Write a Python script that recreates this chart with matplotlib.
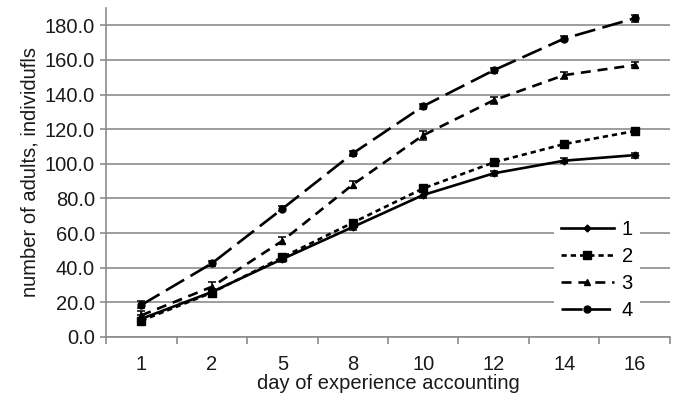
import matplotlib
matplotlib.use("Agg")
import matplotlib.pyplot as plt
import numpy as np

plt.rcParams['font.family'] = ['Liberation Sans', 'DejaVu Sans']

days = ['1', '2', '5', '8', '10', '12', '14', '16']
series_names = ['1', '2', '3', '4']

adults_1 = [10.5, 26.0, 45.0, 63.5, 82.0, 94.5, 101.8, 105.0]
adults_2 = [9.4, 25.6, 46.0, 66.0, 85.8, 100.8, 111.4, 118.9]
adults_3 = [12.5, 29.0, 55.5, 88.0, 116.5, 136.7, 151.2, 157.0]
adults_4 = [18.5, 42.5, 74.0, 106.0, 133.3, 154.0, 172.3, 184.0]

err_1 = [2.0, 2.0, 1.5, 1.5, 2.0, 1.5, 1.5, 1.5]
err_2 = [1.5, 1.5, 1.5, 1.5, 1.5, 1.5, 1.5, 1.5]
err_3 = [2.5, 3.0, 2.0, 2.0, 2.5, 2.0, 2.0, 1.5]
err_4 = [2.0, 1.5, 1.5, 1.5, 1.5, 1.5, 1.5, 2.0]

fig = plt.figure(figsize=(6.76, 3.96), dpi=100)
ax = fig.add_axes([0.157, 0.149, 0.834, 0.831])

x = np.arange(len(days))
# marker, marker size, dash pattern (None = solid)
styles = [
    ('D', 3.5, None),
    ('s', 6.0, (2.0, 1.5)),
    ('^', 5.0, (3.8, 2.6)),
    ('o', 5.0, (8.0, 2.8)),
]
data = [adults_1, adults_2, adults_3, adults_4]
errs = [err_1, err_2, err_3, err_4]

for name, y, e, (mk, ms, dash) in zip(series_names, data, errs, styles):
    line, = ax.plot(x, y, color='black', lw=1.9, marker=mk, ms=ms,
                    label=name, zorder=3)
    if dash is not None:
        line.set_dashes(dash)
    ax.errorbar(x, y, yerr=e, fmt='none', ecolor='black', elinewidth=1.1,
                capsize=3, capthick=1.1, zorder=3)

ax.set_xlim(-0.5, len(days) - 0.5)
ax.set_ylim(0, 190)
ax.set_yticks(np.arange(0, 181, 20))
ax.set_yticklabels([f'{v:.1f}' for v in np.arange(0, 181, 20)])
ax.set_xticks(x)
ax.set_xticklabels(days)
ax.set_xticks(np.arange(-0.5, len(days), 1), minor=True)

ax.grid(axis='y', color='#8c8c8c', lw=1.2)
ax.set_axisbelow(True)
for side in ['top', 'right']:
    ax.spines[side].set_visible(False)
for side in ['left', 'bottom']:
    ax.spines[side].set_color('#8c8c8c')
    ax.spines[side].set_linewidth(1.2)

ax.tick_params(axis='y', length=4, color='#8c8c8c', width=1.2, pad=4,
               labelsize=14.5, labelcolor='#1a1a1a')
ax.tick_params(axis='x', which='major', length=0, pad=13,
               labelsize=14.5, labelcolor='#1a1a1a')
ax.tick_params(axis='x', which='minor', length=5, color='#8c8c8c', width=1.2)

ax.set_xlabel('day of experience accounting', fontsize=14.5, labelpad=0,
              color='#1a1a1a')
ax.set_ylabel('number of adults, individufls', fontsize=14.5, labelpad=4,
              color='#1a1a1a')

leg = ax.legend(loc='center', bbox_to_anchor=(597 / 676, 1 - 270 / 396),
                bbox_transform=fig.transFigure, frameon=True,
                fontsize=14.5, handlelength=2.6, handletextpad=0.4,
                labelspacing=0.4, borderpad=0.35)
leg.get_frame().set_edgecolor('none')
leg.get_frame().set_facecolor('white')
leg.get_frame().set_alpha(1)

fig.savefig('out.png', dpi=100)
